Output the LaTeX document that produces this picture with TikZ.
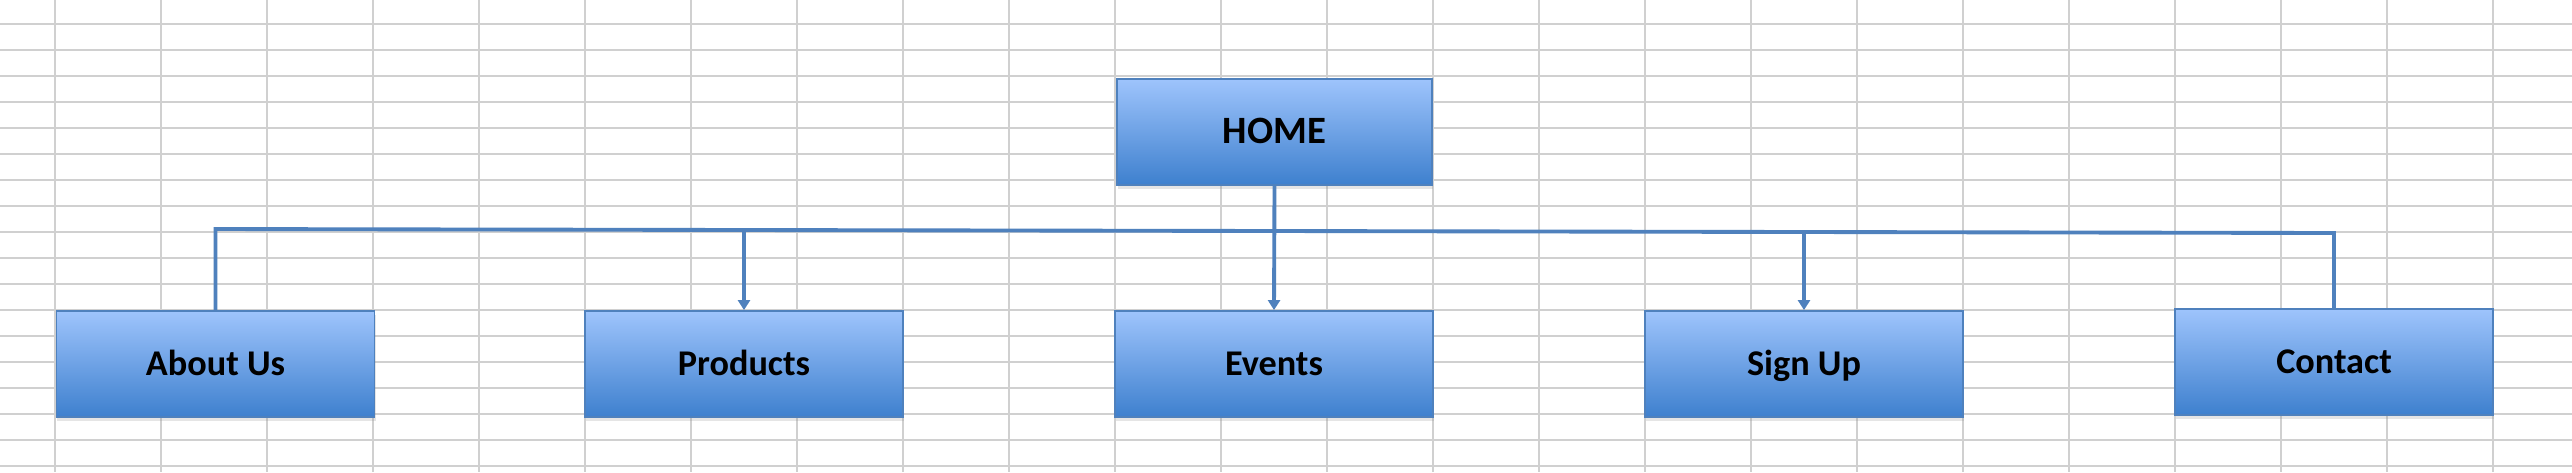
\documentclass[tikz,border=0pt]{standalone}
\usepackage{fontspec}
\setmainfont{Carlito}
\usepackage{tikz}
\usetikzlibrary{shadows,arrows.meta}

\definecolor{linkblue}{RGB}{79,129,189}
\definecolor{boxtop}{RGB}{158,196,252}
\definecolor{boxmid}{RGB}{132,177,239}
\definecolor{boxbot}{RGB}{62,128,206}
\definecolor{gridgray}{RGB}{208,208,208}

\begin{document}
\begin{tikzpicture}[x=0.01cm, y=-0.01cm,
  page/.style={draw=linkblue, line width=0.5pt, top color=boxtop, middle color=boxmid, bottom color=boxbot,
    minimum width=3.18cm, minimum height=1.06cm, inner sep=0pt, text height=0.644em, text depth=0pt,
    font=\fontsize{10.3}{12}\selectfont\bfseries,
    drop shadow={shadow xshift=0.01cm, shadow yshift=-0.04cm, opacity=0.2}},
  link/.style={draw=linkblue, line width=1.1pt},
  arrow/.style={link, -{Triangle[length=0.1cm, width=0.12cm]}},
  gridline/.style={draw=gridgray, line width=0.5pt}]

  \fill[white] (0,0) rectangle (2572,472);
  \useasboundingbox (0,0) rectangle (2572,472);

  % Spreadsheet cells in the background
  \foreach \k in {0,...,23}
    \draw[gridline] (55+106*\k,0) -- (55+106*\k,472);
  \foreach \k in {0,...,17}
    \draw[gridline] (0,24.3+26*\k) -- (2572,24.3+26*\k);

  % Pages
  \node[page, minimum width=3.15cm, font=\fontsize{11}{13}\selectfont\bfseries] (home) at (1274.5,132) {HOME};
  \node[page] (about) at (215.5,364) {About Us};
  \node[page] (products) at (744,364) {Products};
  \node[page] (events) at (1274,364) {Events};
  \node[page] (signup) at (1804,364) {Sign Up};
  \node[page] (contact) at (2334,362) {Contact};

  % Bus line between the outer pages
  \coordinate (busL) at (216,229);
  \coordinate (busR) at (2334,233);
  \draw[link] (about.north) -- (about.north |- busL) -- (contact.north |- busR) -- (contact.north);

  % Arrows down to the inner pages
  \draw[arrow] (home.south) -- (events.north);
  \draw[arrow] (products.north |- busL) -- (products.north);
  \draw[arrow] (signup.north |- busR) -- (signup.north);
\end{tikzpicture}
\end{document}
